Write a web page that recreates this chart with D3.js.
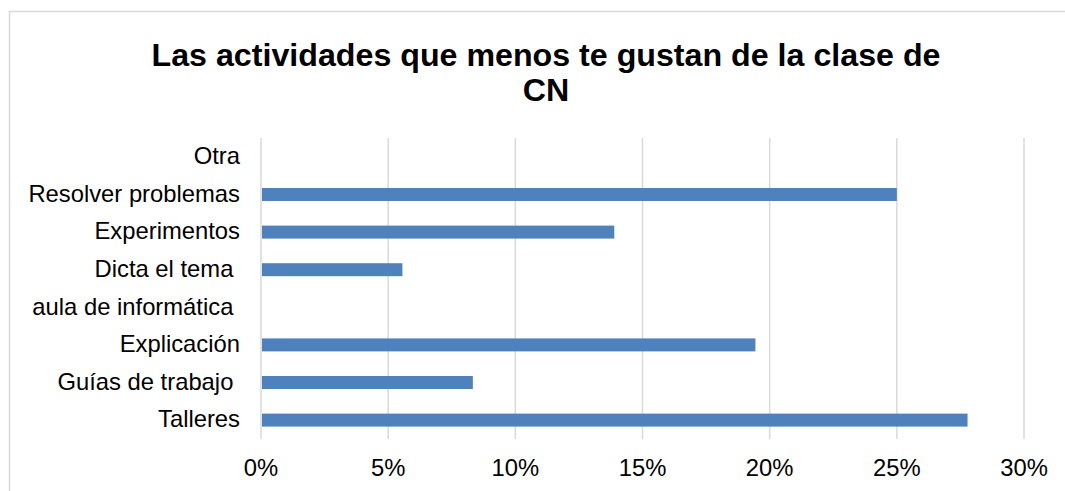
<!DOCTYPE html>
<html>
<head>
<meta charset="utf-8">
<script src="https://cdn.jsdelivr.net/npm/d3@7"></script>
<style>
	body { margin: 0; background: #fff; }
	text { font-family: "Liberation Sans", Arial, sans-serif; white-space: pre; }
</style>
</head>
<body>
<script>
// categories top to bottom, as shown
var categories = ["Otra", "Resolver problemas", "Experimentos", "Dicta el tema ",
	"aula de informática ", "Explicación", "Guías de trabajo ", "Talleres"];
var values = [0, 0.25, 0.1389, 0.0556, 0, 0.1944, 0.0833, 0.2778];
var ticks = [0, 0.05, 0.10, 0.15, 0.20, 0.25, 0.30];
var titleLines = ["Las actividades que menos te gustan de la clase de", "CN"];

var svg = d3.select("body").append("svg")
	.attr("width", 1065)
	.attr("height", 491);

var margin = {top: 138, left: 261},
	width = 1024 - 261,
	height = 439 - 138;

// chart frame
svg.append("rect")
	.attr("x", 9.5)
	.attr("y", 11.5)
	.attr("width", 1070)
	.attr("height", 500)
	.attr("fill", "none")
	.attr("stroke", "#d9d9d9")
	.attr("stroke-width", 1.5);

svg.append("text")
	.attr("text-anchor", "middle")
	.attr("font-weight", "bold")
	.attr("font-size", 32.2)
	.selectAll("tspan")
	.data(titleLines)
	.enter().append("tspan")
		.attr("x", 546)
		.attr("y", function(d, i){return 66 + i * 35;})
		.text(function(d){return d;});

var g = svg.append("g").attr("transform", "translate(" + margin.left + "," + margin.top + ")");

var x = d3.scaleLinear().domain([0, 0.30]).range([0, width]);
var y = d3.scaleBand().domain(categories).range([0, height]).paddingInner(0.655).paddingOuter(0.33);

// gridlines
g.selectAll(".grid").data(ticks).enter().append("line")
	.attr("class", "grid")
	.attr("x1", function(d){return x(d);})
	.attr("x2", function(d){return x(d);})
	.attr("y1", 0)
	.attr("y2", height)
	.attr("stroke", "#d9d9d9")
	.attr("stroke-width", 1.5);

g.selectAll(".bar").data(values).enter().append("rect")
	.attr("class", "bar")
	.attr("x", x(0) + 1)
	.attr("y", function(d, i){return y(categories[i]);})
	.attr("width", function(d){return Math.max(0, x(d) - x(0) - 1);})
	.attr("height", y.bandwidth())
	.attr("fill", "#4f81bd");

// category labels
g.selectAll(".cat").data(categories).enter().append("text")
	.attr("class", "cat")
	.attr("x", -21)
	.attr("y", function(d){return y.step() * categories.indexOf(d) + y.step() / 2 - 1;})
	.attr("dy", "0.35em")
	.attr("text-anchor", "end")
	.attr("font-size", 23.8)
	.attr("fill", "#000")
	.text(function(d){return d;});

// x tick labels
g.selectAll(".tick").data(ticks).enter().append("text")
	.attr("class", "tick")
	.attr("x", function(d){return x(d);})
	.attr("y", 330)
	.attr("dy", "0.35em")
	.attr("text-anchor", "middle")
	.attr("font-size", 23.8)
	.attr("fill", "#000")
	.text(d3.format(".0%"));
</script>
</body>
</html>
